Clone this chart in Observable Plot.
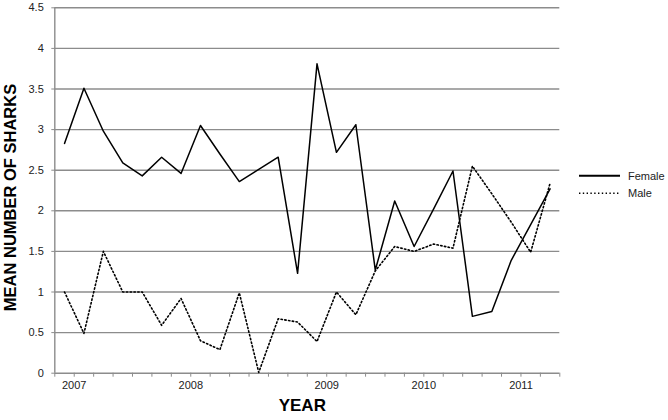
<!DOCTYPE html>
<html>
<head>
<meta charset="utf-8">
<script src="https://cdn.jsdelivr.net/npm/d3@7"></script>
<script src="https://cdn.jsdelivr.net/npm/@observablehq/plot@0.6"></script>
<style>
  html, body { margin: 0; padding: 0; background: #fff; }
  #wrap { position: relative; width: 668px; height: 420px; font-family: "Liberation Sans", Arial, sans-serif; }
  #legend { position: absolute; left: 0; top: 0; pointer-events: none; }
</style>
</head>
<body>
<div id="wrap"></div>
<script>
// Survey periods (category index along the x axis)
const periods = Array.from({length: 26}, (_, i) => i);
const female = [2.83, 3.51, 2.98, 2.59, 2.43, 2.66, 2.46, 3.05, 2.70, 2.36, 2.51, 2.66, 1.23,
                3.81, 2.72, 3.06, 1.27, 2.12, 1.56, 2.02, 2.49, 0.70, 0.76, 1.39, 1.83, 2.27];
const male   = [1.00, 0.49, 1.50, 1.00, 1.00, 0.59, 0.92, 0.40, 0.29, 0.99, 0.01, 0.67, 0.63,
                0.39, 1.00, 0.72, 1.26, 1.56, 1.50, 1.59, 1.54, 2.55, 2.21, 1.86, 1.49, 2.34];
const yTicks = [0, 0.5, 1, 1.5, 2, 2.5, 3, 3.5, 4, 4.5];
const yearLabels = ["2007", "2008", "2009", "2010", "2011"];
const yearAfterPeriod = [0, 6, 13, 18, 23];   // label sits on the boundary after this period
const seriesNames = ["Female", "Male"];

const rows = periods.map((p, i) => ({p, female: female[i], male: male[i]}));
const boundaries = d3.range(-0.5, periods.length, 1);
const labelPos = yearAfterPeriod.map(d => d + 0.5);

const grid = "#8c8c8c";
const font = "'Liberation Sans', Arial, sans-serif";
const dots = "1.4 2.4";

const chart = Plot.plot({
  width: 668,
  height: 420,
  marginLeft: 54.3,
  marginRight: 108.7,
  marginTop: 7.3,
  marginBottom: 47.3,
  style: {fontFamily: font, fontSize: "11px", color: "#222", background: "#fff"},
  x: {domain: [-0.5, periods.length - 0.5]},
  y: {domain: [0, 4.5]},
  marks: [
    Plot.ruleY(yTicks, {stroke: grid, strokeWidth: 1.4}),
    Plot.ruleX([-0.5], {stroke: grid, strokeWidth: 1.4}),
    Plot.axisY({ticks: yTicks, tickFormat: d => String(d), tickSize: 3, tickPadding: 8,
                stroke: grid, label: null, fontSize: 11}),
    Plot.axisX({ticks: boundaries, tickSize: 4, tickFormat: () => "", stroke: grid, label: null}),
    Plot.axisX({ticks: labelPos, tickSize: 0, tickPadding: 8, label: null, fontSize: 11,
                tickFormat: d => yearLabels[labelPos.indexOf(d)]}),
    Plot.line(rows, {x: "p", y: "female", stroke: "#000", strokeWidth: 1.5}),
    Plot.line(rows, {x: "p", y: "male", stroke: "#000", strokeWidth: 1.6, strokeDasharray: dots}),
    Plot.text(["MEAN NUMBER OF SHARKS"], {frameAnchor: "left", textAnchor: "middle", rotate: -90,
              dx: -44, dy: 7, fontWeight: "bold", fontSize: 16.5, fill: "#000"}),
    Plot.text(["YEAR"], {frameAnchor: "bottom", dx: -5, dy: 38, fontWeight: "bold", fontSize: 17, fill: "#000"})
  ]
});

const wrap = document.getElementById("wrap");
wrap.appendChild(chart);

// Legend to the right of the plot area
const leg = d3.select(wrap).append("svg")
  .attr("id", "legend").attr("width", 668).attr("height", 420);
const items = [
  {name: seriesNames[0], dash: null, y: 175.7},
  {name: seriesNames[1], dash: dots, y: 193.3}
];
items.forEach(it => {
  leg.append("line").attr("x1", 579).attr("x2", 620).attr("y1", it.y).attr("y2", it.y)
    .attr("stroke", "#000").attr("stroke-width", it.dash ? 1.6 : 2)
    .attr("stroke-dasharray", it.dash);
  leg.append("text").attr("x", 628).attr("y", it.y + 4)
    .attr("font-family", font).attr("font-size", 11).attr("fill", "#222").text(it.name);
});
</script>
</body>
</html>
